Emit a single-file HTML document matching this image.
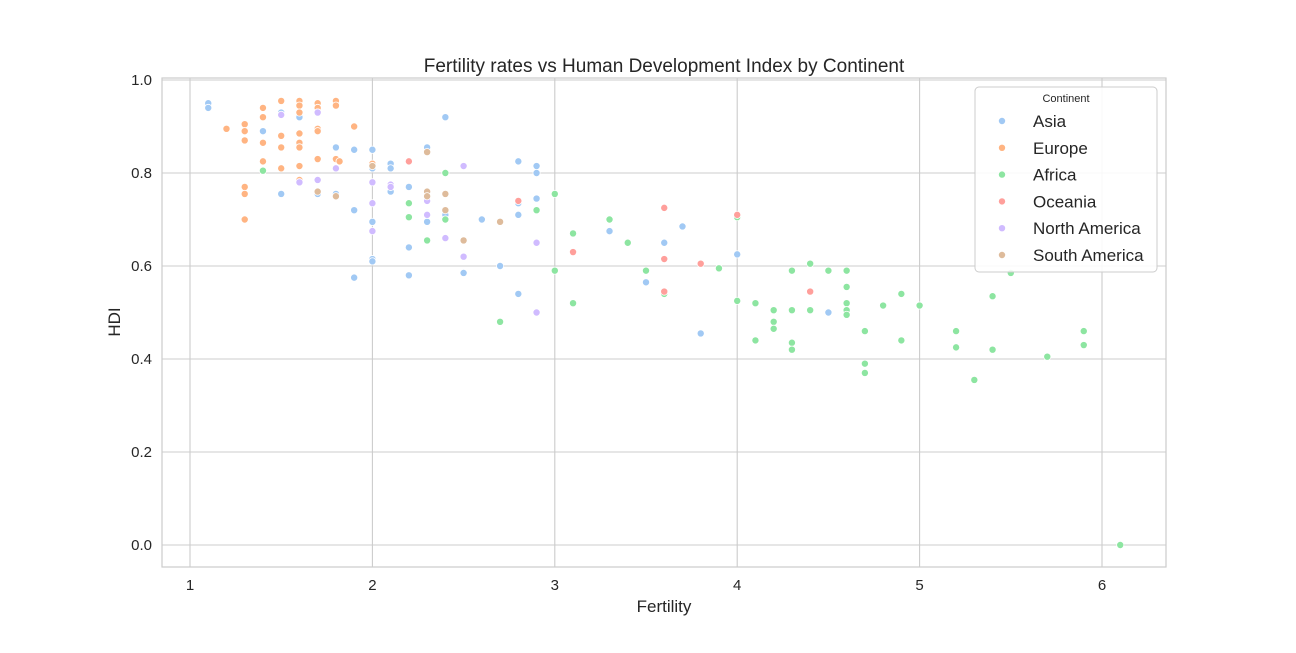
<!DOCTYPE html>
<html><head><meta charset="utf-8"><style>
body{margin:0;background:#fff;font-family:"Liberation Sans","DejaVu Sans",sans-serif;}
</style></head><body>
<svg id="chart" width="1296" height="648" xmlns="http://www.w3.org/2000/svg" font-family="Liberation Sans, DejaVu Sans, sans-serif">
<rect width="1296" height="648" fill="#fff"/>
<g id="grid"></g>
<g id="points"></g>
<rect x="162" y="78" width="1004" height="489" fill="none" stroke="#cccccc" stroke-width="1.2"/>
<text x="664" y="72" text-anchor="middle" font-size="19" fill="#262626">Fertility rates vs Human Development Index by Continent</text>
<text x="664" y="612" text-anchor="middle" font-size="17" fill="#262626">Fertility</text>
<text x="120" y="322" text-anchor="middle" font-size="17" fill="#262626" transform="rotate(-90 120 322)">HDI</text>
<g id="legend">
<rect x="975" y="87" width="182" height="185" rx="4" fill="#fff" fill-opacity="0.85" stroke="#cccccc"/>
<text x="1066" y="102" text-anchor="middle" font-size="11" fill="#262626">Continent</text>
</g>
</svg>
<script>
const continents = ["Asia","Europe","Africa","Oceania","North America","South America"];
const colors = ["#a1c9f4","#ffb482","#8de5a1","#ff9f9b","#d0bbff","#debb9b"];
const xTicks = [1,2,3,4,5,6];
const yTicks = [0.0,0.2,0.4,0.6,0.8,1.0];
const asia = [[1.1,0.95],[1.1,0.94],[1.4,0.89],[1.4,0.92],[1.5,0.93],[1.5,0.755],[1.6,0.92],[1.7,0.755],[1.8,0.855],[1.8,0.755],[1.9,0.72],[1.9,0.85],[1.9,0.575],[2.0,0.85],[2.0,0.81],[2.0,0.695],[2.0,0.615],[2.0,0.61],[2.1,0.82],[2.1,0.81],[2.1,0.76],[2.2,0.77],[2.2,0.64],[2.2,0.58],[2.3,0.855],[2.3,0.695],[2.4,0.92],[2.4,0.71],[2.5,0.585],[2.6,0.70],[2.7,0.60],[2.8,0.825],[2.8,0.735],[2.8,0.71],[2.8,0.54],[2.9,0.815],[2.9,0.80],[2.9,0.745],[3.3,0.675],[3.5,0.565],[3.6,0.65],[3.7,0.685],[3.8,0.455],[4.0,0.625],[4.5,0.5]];
const europe = [[1.2,0.895],[1.3,0.905],[1.3,0.89],[1.3,0.87],[1.3,0.77],[1.3,0.755],[1.3,0.70],[1.4,0.94],[1.4,0.92],[1.4,0.865],[1.4,0.825],[1.5,0.955],[1.5,0.925],[1.5,0.88],[1.5,0.855],[1.5,0.81],[1.6,0.955],[1.6,0.945],[1.6,0.93],[1.6,0.885],[1.6,0.865],[1.6,0.855],[1.6,0.815],[1.6,0.785],[1.7,0.95],[1.7,0.94],[1.7,0.93],[1.7,0.895],[1.7,0.89],[1.7,0.83],[1.8,0.955],[1.8,0.945],[1.8,0.83],[1.82,0.825],[1.9,0.90],[2.0,0.82]];
const africa = [[1.4,0.805],[2.2,0.735],[2.2,0.705],[2.3,0.655],[2.4,0.80],[2.4,0.70],[2.7,0.48],[2.9,0.72],[3.0,0.755],[3.0,0.59],[3.1,0.67],[3.1,0.52],[3.3,0.70],[3.4,0.65],[3.5,0.59],[3.6,0.54],[3.9,0.595],[4.0,0.705],[4.0,0.525],[4.1,0.52],[4.1,0.44],[4.2,0.505],[4.2,0.48],[4.2,0.465],[4.3,0.59],[4.3,0.505],[4.3,0.435],[4.3,0.42],[4.4,0.605],[4.4,0.505],[4.5,0.59],[4.6,0.59],[4.6,0.555],[4.6,0.52],[4.6,0.505],[4.6,0.495],[4.7,0.46],[4.7,0.39],[4.7,0.37],[4.8,0.515],[4.9,0.54],[4.9,0.44],[5.0,0.515],[5.2,0.46],[5.2,0.425],[5.3,0.355],[5.4,0.535],[5.4,0.42],[5.5,0.585],[5.7,0.405],[5.9,0.46],[5.9,0.43],[6.1,0.0]];
const oceania = [[2.2,0.825],[2.8,0.74],[3.1,0.63],[3.6,0.725],[3.6,0.615],[3.6,0.545],[3.8,0.605],[4.0,0.71],[4.4,0.545]];
const northAmerica = [[1.5,0.925],[1.6,0.78],[1.7,0.93],[1.7,0.785],[1.8,0.81],[2.0,0.78],[2.0,0.735],[2.0,0.675],[2.1,0.775],[2.1,0.77],[2.3,0.74],[2.3,0.71],[2.4,0.66],[2.5,0.815],[2.5,0.62],[2.9,0.65],[2.9,0.50]];
const southAmerica = [[1.7,0.76],[1.8,0.75],[2.0,0.815],[2.3,0.845],[2.3,0.76],[2.3,0.75],[2.4,0.755],[2.4,0.72],[2.5,0.655],[2.7,0.695]];
const series = [asia, europe, africa, oceania, northAmerica, southAmerica];

const NS = "http://www.w3.org/2000/svg";
function xs(v){ return 190 + (v - 1) * 182.4; }
function ys(v){ return 545 - v * 465; }
function mk(tag, attrs){ const e = document.createElementNS(NS, tag); for (const k in attrs) e.setAttribute(k, attrs[k]); return e; }
const grid = document.getElementById('grid');
xTicks.forEach(t => {
  const l = mk('line', {x1: xs(t), x2: xs(t), y1: 78, y2: 567, stroke: '#cccccc', 'stroke-width': 1.1});
  
  
  grid.appendChild(l);
  const tx = mk('text', {x: xs(t), y: 590, 'text-anchor': 'middle', 'font-size': 15, fill: '#262626'});
  tx.textContent = t;
  
  
  grid.appendChild(tx);
});
yTicks.forEach(t => {
  const l = mk('line', {x1: 162, x2: 1166, y1: ys(t), y2: ys(t), stroke: '#cccccc', 'stroke-width': 1.1});
  
  
  grid.appendChild(l);
  const tx = mk('text', {x: 152, y: ys(t) + 5, 'text-anchor': 'end', 'font-size': 15, fill: '#262626'});
  tx.textContent = t.toFixed(1);
  
  
  grid.appendChild(tx);
});
const pts = document.getElementById('points');
series.forEach((s, i) => {
  s.forEach(p => {
    const c = mk('circle', {cx: xs(p[0]), cy: ys(p[1]), r: 3.6, fill: colors[i], stroke: '#fff', 'stroke-width': 0.8});
    
    
    pts.appendChild(c);
  });
});
const lg = document.getElementById('legend');
continents.forEach((n, i) => {
  const y = 121 + i * 26.8;
  const c = mk('circle', {cx: 1002, cy: y, r: 3.6, fill: colors[i], stroke: '#fff', 'stroke-width': 0.8});
  
  
  lg.appendChild(c);
  const t = mk('text', {x: 1033, y: y + 6, 'font-size': 17, fill: '#262626'});
  t.textContent = n;
  
  
  lg.appendChild(t);
});
</script>
</body></html>
